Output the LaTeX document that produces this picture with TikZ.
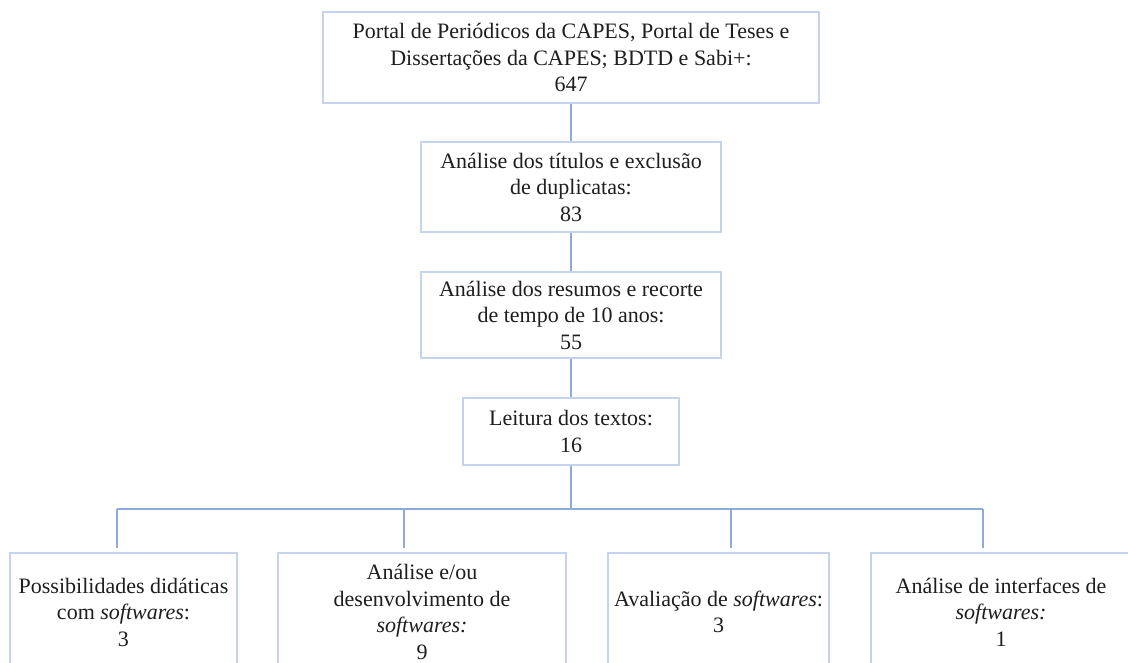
\documentclass[tikz,border=0pt]{standalone}
\usepackage{fontspec}
\setmainfont{Liberation Serif}
\definecolor{boxline}{HTML}{C5D4EE}
\definecolor{conn}{HTML}{8EAADB}
\definecolor{txt}{HTML}{1E1E1E}
\begin{document}
\begin{tikzpicture}[x=1pt,y=-1pt,
  box/.style={draw=boxline,line width=1.4pt,rectangle,inner sep=0pt,align=center,text=txt,
    font=\fontsize{22}{26.5}\selectfont},
  link/.style={draw=conn,line width=1.8pt}]
\useasboundingbox (0,0) rectangle (1128,663);
\clip (0,0) rectangle (1128,663);
\fill[white] (0,0) rectangle (1128,663);
\node[box,minimum width=496pt,minimum height=91pt] (top) at (571,57.5)
  {Portal de Periódicos da CAPES, Portal de Teses e\\Dissertações da CAPES; BDTD e Sabi+:\\647};
\node[box,minimum width=300pt,minimum height=90pt] (tit) at (571,187)
  {Análise dos títulos e exclusão\\de duplicatas:\\83};
\node[box,minimum width=300pt,minimum height=86pt] (res) at (571,315)
  {Análise dos resumos e recorte\\de tempo de 10 anos:\\55};
\node[box,minimum width=216pt,minimum height=67pt] (lei) at (571,431.5)
  {Leitura dos textos:\\16};
\node[box,minimum width=227pt,minimum height=118pt] (a) at (123.5,612)
  {Possibilidades didáticas\\com \textit{softwares}:\\3};
\node[box,minimum width=288pt,minimum height=118pt] (b) at (422,612)
  {Análise e/ou\\desenvolvimento de\\\textit{softwares:}\\9};
\node[box,minimum width=221pt,minimum height=118pt] (c) at (718.5,612)
  {Avaliação de \textit{softwares}:\\3};
\node[box,minimum width=260pt,minimum height=118pt] (d) at (1001,612)
  {Análise de interfaces de\\\textit{softwares:}\\1};
\coordinate (hub) at (571,509);
\coordinate (ha) at (117,509);
\coordinate (hb) at (404,509);
\coordinate (hc) at (731,509);
\coordinate (hd) at (983,509);
\draw[link] (top.south) -- (tit.north);
\draw[link] (tit.south) -- (res.north);
\draw[link] (res.south) -- (lei.north);
\draw[link] (lei.south) -- (hub);
\draw[link] (ha) -- (hd);
\draw[link,shorten >=4pt] (ha) -- (ha |- a.north);
\draw[link,shorten >=4pt] (hb) -- (hb |- b.north);
\draw[link,shorten >=4pt] (hc) -- (hc |- c.north);
\draw[link,shorten >=4pt] (hd) -- (hd |- d.north);
\end{tikzpicture}
\end{document}
